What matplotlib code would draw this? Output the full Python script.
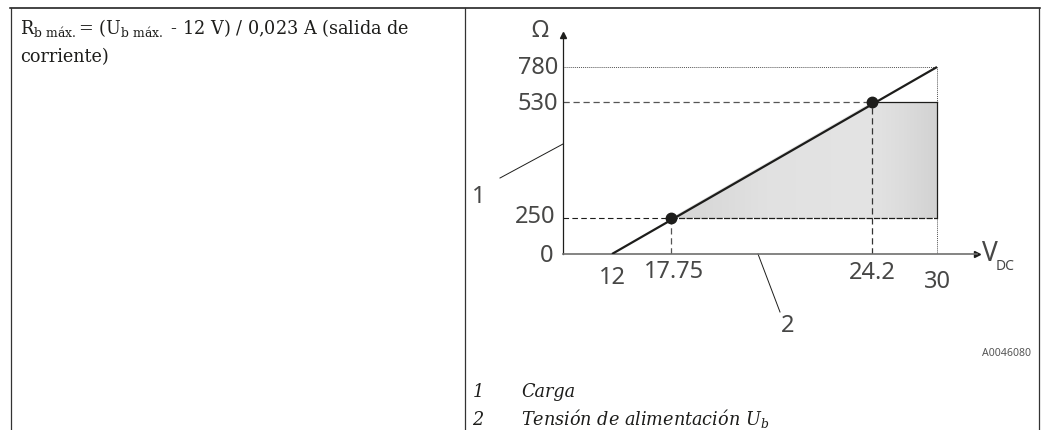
import numpy as np
import matplotlib
matplotlib.use('Agg')
import matplotlib.pyplot as plt
from matplotlib.patches import Polygon

W, H = 1045, 430

# values that are labelled on the axes
x_ticks = [12, 17.75, 24.2, 30]
y_ticks = [0, 250, 530, 780]
# the load line and its two marked points
line_v = [12, 30]
line_r = [0, 780]
point_v = [17.75, 24.2]
point_r = [250, 530]
# grey of the shaded area, left to right
shade_stops = [0.83, 0.88, 0.89, 0.86, 0.82]

# the drawing is a schematic, not to scale: value -> pixel knots
x_val = [10, 12, 17.75, 24.2, 30, 34]
x_pix = [563, 612, 671, 872, 937, 977]
y_val = [0, 250, 530, 780, 1000]
y_pix = [254, 218, 102, 67, 35]

ink = '#1d1d1b'
text_col = '#474746'
serif = 'DejaVu Serif'
sans = 'Noto Sans'
body = 12.7
num = 17

fig = plt.figure(figsize=(W / 100, H / 100), dpi=100)

# page layer in pixel coordinates, for the table and its text
page = fig.add_axes([0, 0, 1, 1])
page.set_xlim(0, W)
page.set_ylim(H, 0)
page.axis('off')

page.plot([10, 1040], [8, 8], color='#111111', lw=1.1)
for px in [11, 465, 1039]:
    page.plot([px, px], [8, 430], color='#333333', lw=0.9)

page.text(20, 28, r'R$_{\mathregular{b\ máx.}}$= (U$_{\mathregular{b\ máx.}}$ - 12 V) / 0,023 A (salida de',
          family=serif, fontsize=body, color=ink, va='center')
page.text(20, 57, 'corriente)', family=serif, fontsize=body, color=ink, va='center')

page.text(1031, 354, 'A0046080', family=sans, fontsize=7.6, color='#555555', ha='right', va='center')
page.text(478, 392, '1', family=serif, style='italic', fontsize=body, color=ink, ha='center', va='center')
page.text(521, 392, 'Carga', family=serif, style='italic', fontsize=body, color=ink, va='center')
page.text(478, 420, '2', family=serif, style='italic', fontsize=body, color=ink, ha='center', va='center')
page.text(521, 418, r'Tensión de alimentación U$_{\mathregular{b}}$', family=serif, style='italic',
          fontsize=body, color=ink, va='center')

# leaders and their numbers
page.plot([500, 563], [178, 144], color=ink, lw=0.7)
page.plot([758, 780], [254, 312], color=ink, lw=0.7)
page.text(479, 197, '1', family=sans, fontsize=num, color=text_col, ha='center', va='center')
page.text(788, 326, '2', family=sans, fontsize=num, color=text_col, ha='center', va='center')

# chart axes sit exactly on the schematic frame
ax = fig.add_axes([563 / W, 1 - 254 / H, (977 - 563) / W, (254 - 35) / H])
ax.patch.set_alpha(0)
ax.set_xscale('function', functions=(lambda v: np.interp(v, x_val, x_pix),
                                     lambda p: np.interp(p, x_pix, x_val)))
ax.set_yscale('function', functions=(lambda v: np.interp(v, y_val, -np.array(y_pix)),
                                     lambda p: np.interp(p, -np.array(y_pix), y_val)))
ax.set_xlim(10, 34)
ax.set_ylim(0, 1000)
ax.spines['top'].set_visible(False)
ax.spines['right'].set_visible(False)
ax.spines['left'].set_color(ink)
ax.spines['left'].set_linewidth(0.9)
ax.spines['bottom'].set_color('#6f6f6e')
ax.spines['bottom'].set_linewidth(1.2)
ax.plot(1, 0, '>', color=ink, ms=4.5, transform=ax.transAxes, clip_on=False)
ax.plot(0, 1, '^', color=ink, ms=4.5, transform=ax.transAxes, clip_on=False)

# shaded working area with a horizontal gradient
edges = np.linspace(point_v[0], x_ticks[-1], 120)
stops = np.interp(edges[:-1], np.linspace(point_v[0], x_ticks[-1], len(shade_stops)), shade_stops)
mesh = ax.pcolormesh(edges, [point_r[0], point_r[1]], stops[None, :], cmap='gray', vmin=0, vmax=1,
                     shading='flat', zorder=1, rasterized=True)
area = Polygon([(point_v[0], point_r[0]), (point_v[1], point_r[1]), (x_ticks[-1], point_r[1]),
                (x_ticks[-1], point_r[0])], transform=ax.transData, fill=False, edgecolor='none')
ax.add_patch(area)
mesh.set_clip_path(area)

# guide lines
dash = (0, (5, 3))
ax.plot([10, 30], [780, 780], color='#555555', lw=0.7, ls=(0, (1, 1)), zorder=2)
ax.plot([30, 30], [0, 780], color='#555555', lw=0.7, ls=(0, (1, 1)), zorder=2)
ax.plot([10, point_v[1]], [530, 530], color='#555555', lw=0.9, ls=dash, zorder=2)
ax.plot([10, point_v[0]], [250, 250], color=ink, lw=0.8, ls=dash, zorder=2)
ax.plot([point_v[0], 30], [250, 250], color=ink, lw=0.9, ls=(0, (5, 1)), zorder=2)
ax.plot([point_v[1], 30], [530, 530], color=ink, lw=0.9, zorder=2)
ax.plot([30, 30], [250, 530], color=ink, lw=0.9, zorder=2)
ax.plot([17.75, 17.75], [0, 250], color='#555555', lw=0.9, ls=dash, zorder=2)
ax.plot([24.2, 24.2], [0, 530], color='#333333', lw=0.9, ls=dash, zorder=2)

ax.plot(line_v, line_r, color=ink, lw=1.6, zorder=3, solid_capstyle='butt')
ax.plot(point_v, point_r, 'o', color=ink, ms=7.5, zorder=4)

ax.set_xticks([])
ax.set_yticks([])
ax.minorticks_off()

# tick labels are placed by hand in the reference: 12 and 30 sit lower
x_label_px = [(0, 24), (3, 18), (0, 19), (0, 28)]
y_label_px = [(10, -2), (8, 1), (5, -2), (5, -1)]
for v, (dx, dy) in zip(x_ticks, x_label_px):
    ax.annotate(str(v), (v, 0), xytext=(dx * 0.72, -dy * 0.72), textcoords='offset points', ha='center',
                va='center', family=sans, fontsize=num, color=text_col, annotation_clip=False)
for r, (dx, dy) in zip(y_ticks, y_label_px):
    ax.annotate(str(r), (10, r), xytext=(-dx * 0.72, dy * 0.72), textcoords='offset points', ha='right',
                va='center', family=sans, fontsize=num, color=text_col, annotation_clip=False)
page.text(540, 31, 'Ω', family=sans, fontsize=num, color=text_col, ha='center', va='center')
page.text(982, 254, 'V', family=sans, fontsize=19, color=text_col, ha='left', va='center')
page.text(996, 267, 'DC', family=sans, fontsize=10, color=text_col, ha='left', va='center')

fig.savefig('out.png', dpi=100, facecolor='white')
